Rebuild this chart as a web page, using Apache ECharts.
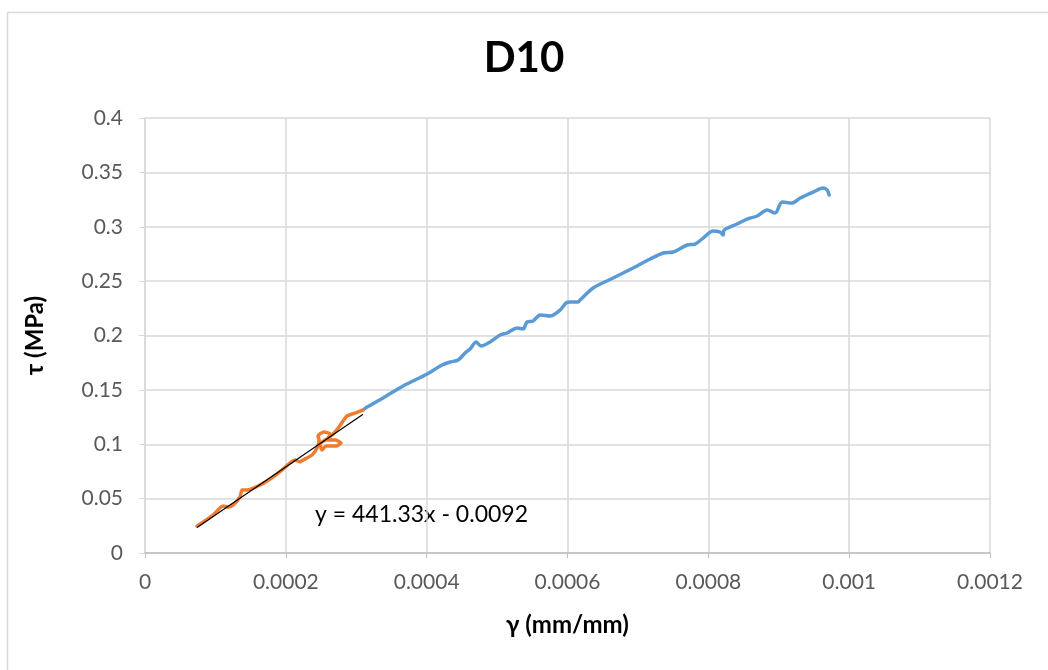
<!DOCTYPE html>
<html>
<head>
<meta charset="utf-8">
<script src="https://cdn.jsdelivr.net/npm/echarts@6/dist/echarts.min.js"></script>
<style>
  html, body { margin: 0; padding: 0; background: #fff; }
  #chart { width: 1048px; height: 670px; }
</style>
</head>
<body>
<div id="chart"></div>
<script>
// Shear strain (mm/mm) and shear stress (MPa), specimen D10
const chartTitle = 'D10';
const xAxisName = 'γ (mm/mm)';
const yAxisName = 'τ (MPa)';

// Initial (linear) portion used for the fit
const fitGamma = [0.0000739, 0.0000966, 0.0001108, 0.0001179, 0.0001250, 0.0001349, 0.0001378, 0.0001449,
  0.0001634, 0.0001818, 0.0001960, 0.0002060, 0.0002131, 0.0002202, 0.0002244, 0.0002372,
  0.0002443, 0.0002472, 0.0002457, 0.0002543, 0.0002628, 0.0002585, 0.0002699, 0.0002784, 0.0002713,
  0.0002571, 0.0002514, 0.0002486, 0.0002600, 0.0002685, 0.0002742, 0.0002813, 0.0002869, 0.0002983,
  0.0003097];
const fitTau = [0.0248, 0.0349, 0.0432, 0.0423, 0.0441, 0.0515, 0.0579, 0.0579,
  0.0625, 0.0699, 0.0772, 0.0828, 0.0855, 0.0837, 0.0855, 0.0901,
  0.0965, 0.1039, 0.1076, 0.1113, 0.1094, 0.1039, 0.1039, 0.1011, 0.0984,
  0.0984, 0.0947, 0.1002, 0.1057, 0.1103, 0.1149, 0.1214, 0.1260, 0.1287,
  0.1315];

// Full response beyond the fitted range
const curveGamma = [0.0003097, 0.0003153, 0.0003381, 0.0003665, 0.0004006, 0.0004219, 0.0004333, 0.0004446,
  0.0004546, 0.0004617, 0.0004702, 0.0004773, 0.0004901, 0.0005043, 0.0005142, 0.0005284, 0.0005369,
  0.0005426, 0.0005511, 0.0005611, 0.0005753, 0.0005895, 0.0005980, 0.0006037, 0.0006151, 0.0006179,
  0.0006364, 0.0006648, 0.0006932, 0.0007173, 0.0007358, 0.0007500, 0.0007699, 0.0007813, 0.0007926,
  0.0008068, 0.0008168, 0.0008210, 0.0008225, 0.0008409, 0.0008551, 0.0008693, 0.0008835, 0.0008949,
  0.0009048, 0.0009191, 0.0009304, 0.0009489, 0.0009631, 0.0009688, 0.0009716];
const curveTau = [0.1315, 0.1342, 0.1425, 0.1536, 0.1646, 0.1729, 0.1756, 0.1775,
  0.1839, 0.1876, 0.1940, 0.1903, 0.1940, 0.2005, 0.2023, 0.2069, 0.2060,
  0.2124, 0.2133, 0.2188, 0.2179, 0.2234, 0.2299, 0.2308, 0.2308, 0.2326,
  0.2437, 0.2529, 0.2621, 0.2703, 0.2759, 0.2768, 0.2832, 0.2841, 0.2896,
  0.2961, 0.2951, 0.2924, 0.2970, 0.3025, 0.3071, 0.3099, 0.3154, 0.3126,
  0.3227, 0.3218, 0.3264, 0.3319, 0.3356, 0.3337, 0.3292];

// Linear trendline
const slope = 441.33;
const intercept = -0.0092;
const trendLabel = 'y = 441.33x - 0.0092';

const xTicks = ['0', '0.0002', '0.0004', '0.0006', '0.0008', '0.001', '0.0012'];
const yTicks = ['0', '0.05', '0.1', '0.15', '0.2', '0.25', '0.3', '0.35', '0.4'];

const zip = (xs, ys) => xs.map((x, i) => [x, ys[i]]);
const gMin = Math.min(...fitGamma);
const gMax = Math.max(...fitGamma);
const trendData = [[gMin, slope * gMin + intercept], [gMax, slope * gMax + intercept]];

const font = 'Lato, "Open Sans", sans-serif';
const gridColor = '#d9d9d9';

const chart = echarts.init(document.getElementById('chart'), null, { renderer: 'canvas' });
chart.setOption({
  animation: false,
  backgroundColor: '#ffffff',
  title: {
    text: chartTitle,
    left: 'center',
    top: 32,
    textStyle: { fontFamily: font, fontSize: 42, fontWeight: 'bold', color: '#000' }
  },
  grid: { left: 145, right: 58, top: 118, bottom: 117, containLabel: false },
  xAxis: {
    type: 'value',
    min: 0, max: 0.0012, interval: 0.0002,
    name: xAxisName,
    nameLocation: 'middle',
    nameGap: 60,
    nameTextStyle: { fontFamily: font, fontSize: 24, fontWeight: 'bold', color: '#000' },
    axisLine: { show: true, lineStyle: { color: '#bfbfbf', width: 1.5 } },
    axisTick: { show: true, length: 5, lineStyle: { color: '#bfbfbf' } },
    axisLabel: {
      fontFamily: font, fontSize: 21, color: '#595959', margin: 19,
      formatter: (v) => xTicks[Math.round(v / 0.0002)]
    },
    splitLine: { show: true, lineStyle: { color: gridColor, width: 1.5 } }
  },
  yAxis: {
    type: 'value',
    min: 0, max: 0.4, interval: 0.05,
    name: yAxisName,
    nameLocation: 'middle',
    nameGap: 98,
    nameTextStyle: { fontFamily: font, fontSize: 24, fontWeight: 'bold', color: '#000' },
    axisLine: { show: true, lineStyle: { color: gridColor, width: 1.5 } },
    axisTick: { show: true, length: 6, lineStyle: { color: gridColor } },
    axisLabel: {
      fontFamily: font, fontSize: 21, color: '#595959', margin: 22,
      formatter: (v) => yTicks[Math.round(v / 0.05)]
    },
    splitLine: { show: true, lineStyle: { color: gridColor, width: 1.5 } }
  },
  series: [
    {
      type: 'line', name: 'curve', data: zip(curveGamma, curveTau),
      showSymbol: false, smooth: 0.3,
      lineStyle: { color: '#5b9bd5', width: 3.5, cap: 'round', join: 'round' }, z: 2
    },
    {
      type: 'line', name: 'fit', data: zip(fitGamma, fitTau),
      showSymbol: false, smooth: 0.2,
      lineStyle: { color: '#ed7d31', width: 3.5, cap: 'round', join: 'round' }, z: 3
    },
    {
      type: 'line', name: 'trend', data: trendData,
      showSymbol: false,
      lineStyle: { color: '#000000', width: 1.2 }, z: 4
    }
  ],
  graphic: [
    {
      type: 'rect', left: 5, top: 10, z: -10, silent: true,
      shape: { width: 1100, height: 700 },
      style: { fill: 'none', stroke: '#d9d9d9', lineWidth: 1.5 }
    },
    {
      type: 'text', left: 315, top: 503, silent: true,
      style: { text: trendLabel, fontFamily: font, fontSize: 23, fill: '#000' }
    }
  ]
});
</script>
</body>
</html>
